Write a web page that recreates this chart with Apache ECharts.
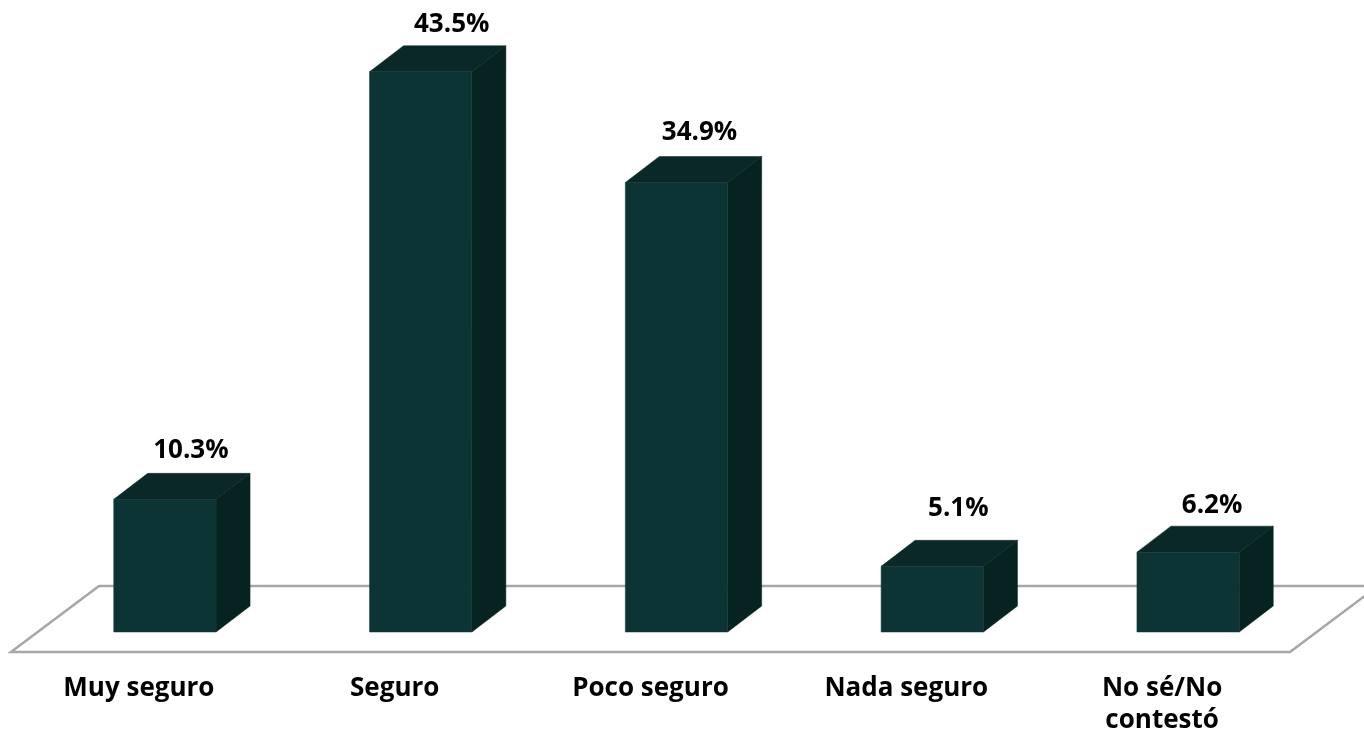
<!DOCTYPE html>
<html>
<head>
<meta charset="utf-8">
<style>
html, body { margin: 0; padding: 0; background: #fff; }
#main { width: 1364px; height: 732px; }
</style>
<script src="https://cdn.jsdelivr.net/npm/echarts@6/dist/echarts.min.js"></script>
</head>
<body>
<div id="main"></div>
<script>
var categories = ['Muy seguro', 'Seguro', 'Poco seguro', 'Nada seguro', 'No sé/No\ncontestó'];
var values = [10.3, 43.5, 34.9, 5.1, 6.2];

// fake 3d look
var depthX = 34, depthY = 26, floorShift = 26;
var labelFont = '"Open Sans", Lato, sans-serif';
// the source labels do not sit on a regular offset
var labelNudgeX = [26, 31, 23, 26, 24];
var labelNudgeY = [23, 21, 24, 32, 21];

function face(points, color) {
    return {
        type: 'polygon',
        shape: { points: points },
        style: { fill: color, stroke: color, lineWidth: 0.5 }
    };
}

function renderBar(params, api) {
    var i = api.value(0);
    var top = api.coord([i, api.value(1)]);
    var base = api.coord([i, 0]);
    var w = api.size([1, 0])[0] * 0.4;
    var x0 = top[0] + floorShift - w / 2;
    var x1 = x0 + w;
    return {
        type: 'group',
        children: [
            face([[x0, top[1]], [x0 + depthX, top[1] - depthY], [x1 + depthX, top[1] - depthY], [x1, top[1]]], '#0a2827'),
            face([[x1, top[1]], [x1 + depthX, top[1] - depthY], [x1 + depthX, base[1] - depthY], [x1, base[1]]], '#072321'),
            face([[x0, top[1]], [x1, top[1]], [x1, base[1]], [x0, base[1]]], '#0c3434'),
            {
                type: 'text',
                style: {
                    x: top[0] + floorShift + labelNudgeX[i],
                    y: top[1] - depthY - labelNudgeY[i],
                    text: api.value(1).toFixed(1) + '%',
                    fill: '#000',
                    font: 'bold 26px ' + labelFont,
                    align: 'center',
                    verticalAlign: 'middle'
                }
            }
        ]
    };
}

var chart = echarts.init(document.getElementById('main'));
chart.setOption({
    animation: false,
    grid: { left: 11, width: 1279, top: 52.4, height: 579.6, outerBoundsMode: 'none' },
    xAxis: {
        type: 'category',
        data: categories,
        axisLine: { show: false },
        axisTick: { show: false },
        axisLabel: {
            color: '#000',
            fontFamily: labelFont,
            fontWeight: 'bold',
            fontSize: 26,
            lineHeight: 32,
            margin: 41
        }
    },
    yAxis: { type: 'value', min: 0, max: 45, show: false },
    series: [{
        type: 'custom',
        clip: false,
        renderItem: renderBar,
        data: values.map(function (v, i) { return [i, v]; }),
        encode: { x: 0, y: 1 }
    }],
    graphic: [{
        type: 'polygon',
        silent: true,
        z: 0,
        shape: { points: [[11, 652], [99, 586], [1378, 586], [1290, 652]] },
        style: { fill: '#fff', stroke: '#a6a6a6', lineWidth: 2.5 }
    }]
});
</script>
</body>
</html>
